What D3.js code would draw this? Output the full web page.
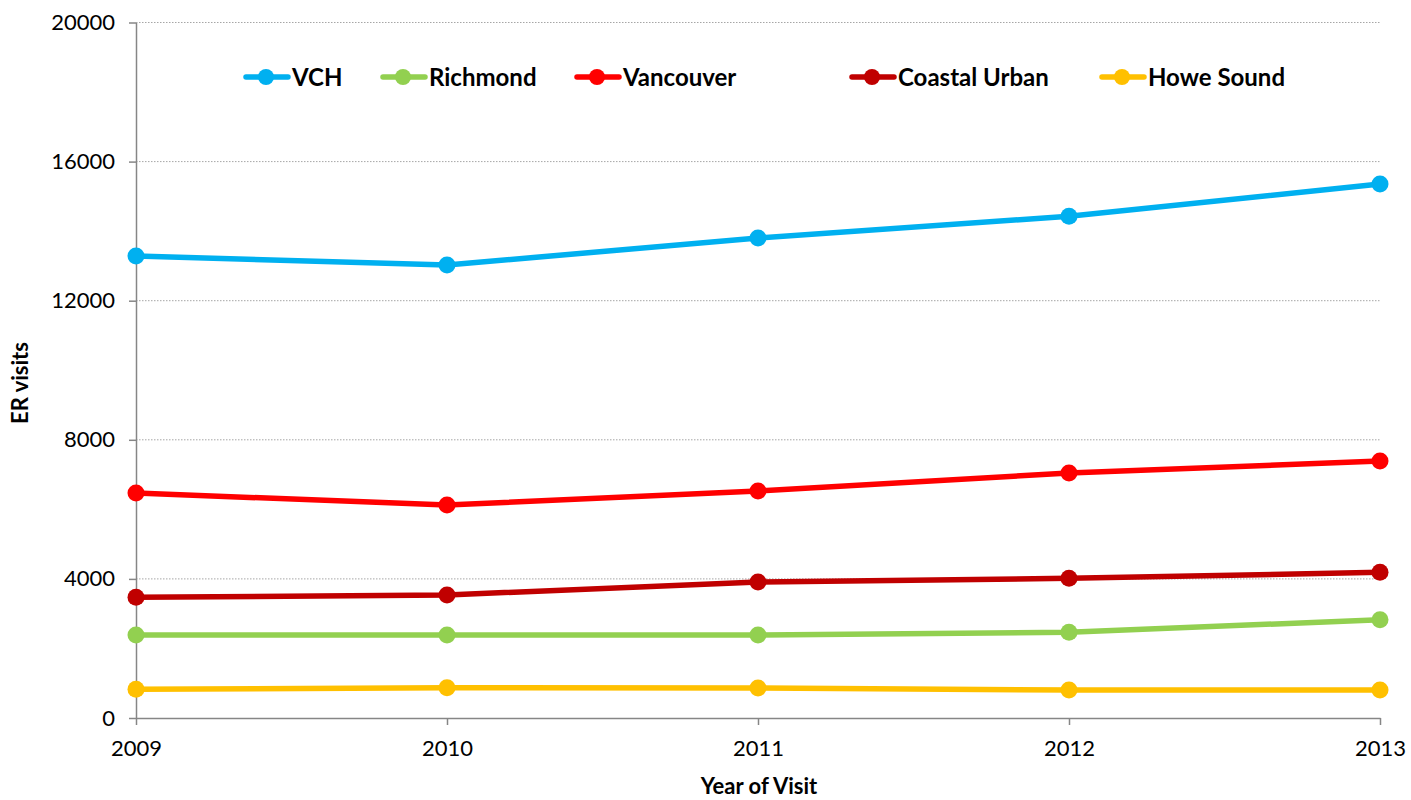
<!DOCTYPE html>
<html><head><meta charset="utf-8">
<script src="https://cdn.jsdelivr.net/npm/d3@7"></script>
<style>body{margin:0;background:#fff}svg{display:block}text{font-family:Lato,"Open Sans",sans-serif}</style>
</head><body>
<svg id="c" width="1411" height="800"></svg>
<script>
const years = [2009, 2010, 2011, 2012, 2013];
const seriesNames = ["VCH", "Richmond", "Vancouver", "Coastal Urban", "Howe Sound"];
const seriesColors = ["#00b0f0", "#92d050", "#ff0000", "#c00000", "#ffc000"];
const vch = [13285, 13027, 13803, 14427, 15356];
const richmond = [2387, 2387, 2387, 2464, 2827];
const vancouver = [6470, 6125, 6528, 7045, 7390];
const coastalUrban = [3471, 3537, 3911, 4017, 4190];
const howeSound = [825, 872, 863, 805, 805];
const yTicks = [0, 4000, 8000, 12000, 16000, 20000];
const seriesValues = [vch, richmond, vancouver, coastalUrban, howeSound];

const svg = d3.select("#c");
const x = d3.scalePoint().domain(years).range([136, 1380]);
const y = d3.scaleLinear().domain([0, 20000]).range([718, 22.5]);

// gridlines
svg.append("g").selectAll("line").data(yTicks.filter(d => d > 0)).join("line")
  .attr("x1", 136).attr("x2", 1380).attr("y1", d => y(d)).attr("y2", d => y(d))
  .attr("stroke", "#a6a6a6").attr("stroke-width", 1).attr("stroke-dasharray", "1.5,1.5");

// axes
const yAxis = d3.axisLeft(y).tickValues(yTicks).tickSize(7).tickSizeOuter(0).tickPadding(14).tickFormat(d3.format("d"));
const gy = svg.append("g").attr("transform", "translate(136,0)").call(yAxis);
const xAxis = d3.axisBottom(x).tickSize(7).tickSizeOuter(0).tickPadding(18).tickFormat(d3.format("d"));
const gx = svg.append("g").attr("transform", "translate(0,718)").call(xAxis);
[gy, gx].forEach(g => {
  g.select(".domain").attr("stroke", "#868686").attr("stroke-width", 1.5);
  g.selectAll(".tick line").attr("stroke", "#868686").attr("stroke-width", 1.5);
  g.selectAll(".tick text").attr("fill", "#000").style("font-size", "22px").style("font-family", "Lato, 'Open Sans', sans-serif");
});
gx.selectAll(".tick text").attr("dy", "0.6em");

// series
const line = d3.line().x((d, i) => x(years[i])).y(d => y(d));
seriesValues.forEach((vals, si) => {
  const g = svg.append("g");
  g.append("path").datum(vals).attr("d", line).attr("fill", "none")
    .attr("stroke", seriesColors[si]).attr("stroke-width", 5.5).attr("stroke-linejoin", "round");
  g.selectAll("circle").data(vals).join("circle")
    .attr("cx", (d, i) => x(years[i])).attr("cy", d => y(d)).attr("r", 8.5)
    .attr("fill", seriesColors[si]);
});

// legend
const legendX = [246, 383, 577, 852, 1102];
const lg = svg.append("g");
seriesNames.forEach((n, i) => {
  const g = lg.append("g").attr("transform", `translate(${legendX[i]},77)`);
  g.append("line").attr("x1", 0).attr("x2", 42).attr("stroke", seriesColors[i]).attr("stroke-width", 5.5).attr("stroke-linecap", "round");
  g.append("circle").attr("cx", 20).attr("r", 8).attr("fill", seriesColors[i]);
  g.append("text").attr("x", 46).attr("dy", "0.36em").style("font-size", "24px").style("font-weight", "bold").text(n);
});

// titles
svg.append("text").attr("transform", "translate(28,383) rotate(-90)").attr("text-anchor", "middle")
  .style("font-size", "22px").style("font-weight", "bold").text("ER visits");
svg.append("text").attr("x", 759).attr("y", 794).attr("text-anchor", "middle")
  .style("font-size", "22px").style("font-weight", "bold").text("Year of Visit");
</script>
</body></html>
